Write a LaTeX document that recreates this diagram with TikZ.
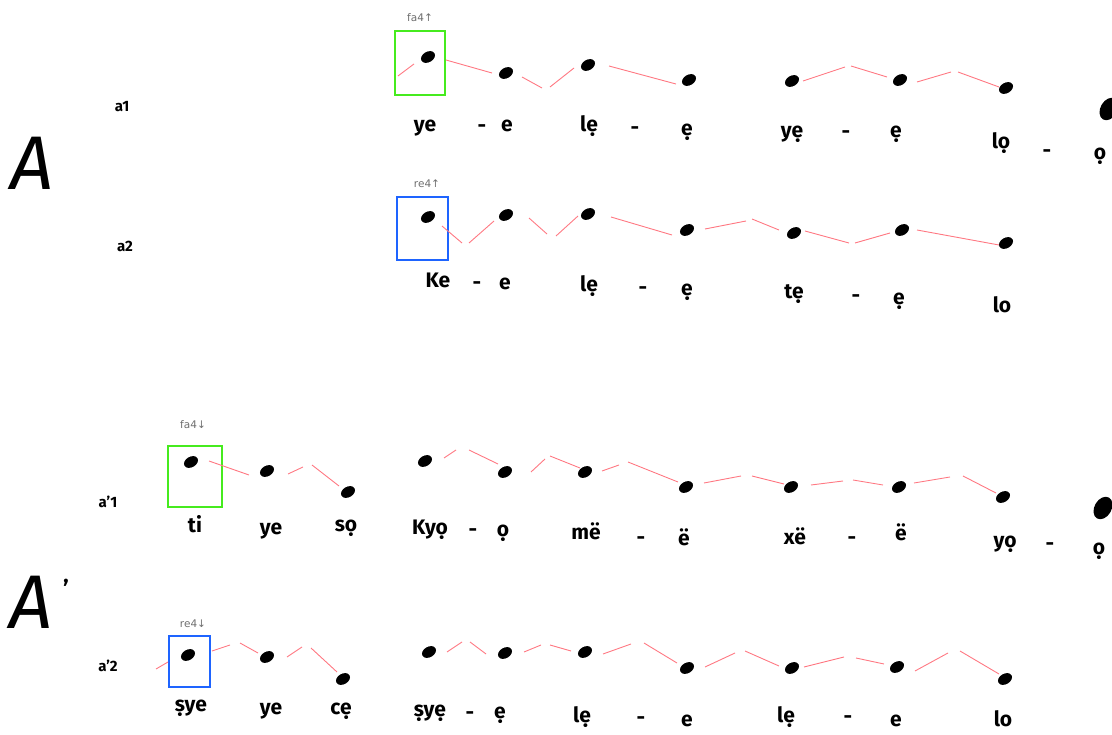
\documentclass[tikz,border=0pt]{standalone}
\usepackage{fontspec}
\setmainfont{Fira Sans}
\newfontfamily\symfont{DejaVu Sans}
\usetikzlibrary{shapes.geometric}
\definecolor{boxgreen}{RGB}{70,235,30}
\definecolor{boxblue}{RGB}{30,100,255}
\definecolor{contour}{RGB}{255,120,130}
\definecolor{tagcol}{RGB}{110,110,110}
\tikzset{
  notedot/.style={ellipse, fill=black, inner sep=0pt, minimum width=15pt, minimum height=10.5pt, rotate=30},
  bigdot/.style={ellipse, fill=black, inner sep=0pt, minimum width=24pt, minimum height=17pt, rotate=60},
  contourline/.style={draw=contour, line width=0.9pt},
  greenbox/.style={draw=boxgreen, line width=2.6pt, fill=none},
  bluebox/.style={draw=boxblue, line width=2.6pt, fill=none},
  lyr/.style={anchor=mid, inner sep=0pt, font=\bfseries\fontsize{21}{25}\selectfont},
  tag/.style={text=tagcol, inner sep=0pt, font=\symfont\fontsize{10.5}{12}\selectfont},
  rowlabel/.style={inner sep=0pt, font=\bfseries\fontsize{15}{17}\selectfont},
  bigletter/.style={inner sep=0pt, font=\itshape\fontsize{76}{80}\selectfont}
}
\begin{document}
\begin{tikzpicture}[x=1pt,y=-1pt]
\useasboundingbox (0,0) rectangle (1112,735);

% ---------- section labels ----------
\node[bigletter] (bigA) at (32,163) {A};
\node[bigletter] (bigAp) at (31,602) {A};
\node[inner sep=0pt, font=\bfseries\fontsize{24}{26}\selectfont] (bigApmark) at (66,588) {’};
\node[rowlabel] (la1) at (122,107) {a1};
\node[rowlabel] (la2) at (125,246) {a2};
\node[rowlabel] (lap1) at (108,502) {a'1};
\node[rowlabel] (lap2) at (108,666) {a'2};

% ================= row a1 =================
\draw[greenbox] (395,31) rectangle (445,95);
\node[tag] (t1) at (420,18) {fa4↑};
\foreach \x/\y [count=\i] in {428/57,506/73,588/65,689/80,792/81,900/80,1006/88}
  \node[notedot] (a1d\i) at (\x,\y) {};
\node[bigdot] (a1big) at (1109,109) {};
\foreach \xa/\ya/\xb/\yb in {398/76/414/64, 446/60/492/73, 522/77/542/88, 550/87/574/68,
  609/66/676/84, 803/81/845/67, 851/66/887/77, 917/82/951/72, 958/72/999/87}
  \draw[contourline] (\xa,\ya) -- (\xb,\yb);
\foreach \x/\y/\s [count=\i] in {425/129/ye, 482/130/-, 507/129/e, 589/129/lẹ, 635/132/-, 687/133/ẹ,
  792/135/yẹ, 846/136/-, 896/135/ẹ, 1001/146/lọ, 1047/155/-, 1100/157/ọ}
  \node[lyr] (a1w\i) at (\x,\y) {\s};

% ================= row a2 =================
\draw[bluebox] (397,197) rectangle (448,260);
\node[tag] (t2) at (427,184) {re4↑};
\foreach \x/\y [count=\i] in {428/217,506/215,588/214,687/230,794/233,902/230,1006/243}
  \node[notedot] (a2d\i) at (\x,\y) {};
\foreach \xa/\ya/\xb/\yb in {442/226/462/243, 469/243/494/221, 529/218/547/234, 556/236/578/216,
  611/217/672/235, 705/229/746/221, 752/219/779/230, 805/231/849/243, 855/243/890/233, 917/230/999/245}
  \draw[contourline] (\xa,\ya) -- (\xb,\yb);
\foreach \x/\y/\s [count=\i] in {438/285/Ke, 477/287/-, 505/287/e, 589/289/lẹ, 643/292/-, 687/293/ẹ,
  794/296/tẹ, 856/300/-, 899/302/ẹ, 1002/310/lo}
  \node[lyr] (a2w\i) at (\x,\y) {\s};

% ================= row a'1 =================
\draw[greenbox] (168,446) rectangle (222,507);
\node[tag] (t3) at (193,425) {fa4↓};
\foreach \x/\y [count=\i] in {191/462,267/471,348/492,425/461,505/472,585/472,686/487,791/487,899/487,1003/497}
  \node[notedot] (b1d\i) at (\x,\y) {};
\node[bigdot] (b1big) at (1103,508) {};
\foreach \xa/\ya/\xb/\yb in {209/461/249/475, 288/474/303/467, 312/465/339/486, 444/458/456/450,
  469/450/498/464, 531/472/545/459, 550/456/580/468, 602/471/619/465, 628/462/678/482,
  704/483/741/476, 752/476/784/484, 811/485/843/481, 853/480/883/485, 914/483/950/477, 963/476/996/493}
  \draw[contourline] (\xa,\ya) -- (\xb,\yb);
\foreach \x/\y/\s [count=\i] in {195/530/ti, 271/532/ye, 346/529/sọ, 430/532/Kyọ, 473/534/-, 503/534/ọ,
  586/537/më, 641/542/-, 684/543/ë, 795/542/xë, 852/542/-, 901/538/ë, 1005/545/yọ, 1050/548/-, 1099/552/ọ}
  \node[lyr] (b1w\i) at (\x,\y) {\s};

% ================= row a'2 =================
\draw[bluebox] (169,636) rectangle (210,687);
\node[tag] (t4) at (193,624) {re4↓};
\foreach \x/\y [count=\i] in {188/655,267/657,343/679,429/652,505/653,585/652,687/668,792/668,897/667,1005/679}
  \node[notedot] (b2d\i) at (\x,\y) {};
\foreach \xa/\ya/\xb/\yb in {156/669/168/662, 212/651/230/645, 240/643/258/653, 287/657/302/647,
  311/648/337/672, 447/652/462/642, 470/642/486/654, 524/652/541/645, 550/645/571/651,
  603/654/631/644, 644/643/677/663, 705/667/735/653, 745/651/779/666, 804/667/844/657,
  856/658/884/664, 915/671/948/653, 960/651/999/674}
  \draw[contourline] (\xa,\ya) -- (\xb,\yb);
\foreach \x/\y/\s [count=\i] in {191/709/ṣye, 271/712/ye, 341/712/cẹ, 430/714/ṣyẹ, 470/717/-, 500/716/ẹ,
  582/720/lẹ, 641/722/-, 687/724/e, 786/720/lẹ, 848/721/-, 896/724/e, 1003/724/lo}
  \node[lyr] (b2w\i) at (\x,\y) {\s};
\end{tikzpicture}
\end{document}
